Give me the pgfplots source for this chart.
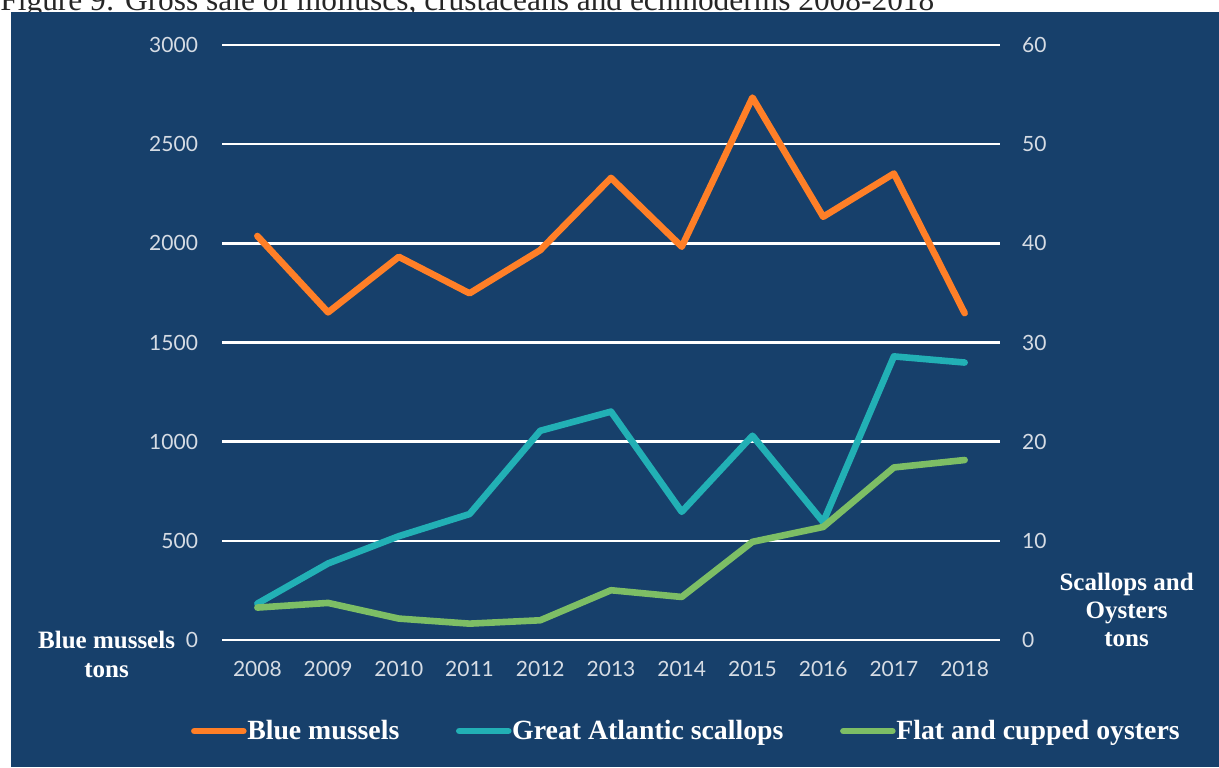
\documentclass[border=0pt]{standalone}
\usepackage{fontspec}
\setmainfont{Liberation Serif}
\newfontfamily\ticksfont{Lato}
\usepackage{pgfplots}
\pgfplotsset{compat=1.18}
\definecolor{bg}{HTML}{17406B}
\definecolor{cOrange}{HTML}{FF7F27}
\definecolor{cTeal}{HTML}{22B0B5}
\definecolor{cGreen}{HTML}{7DBE65}
\definecolor{tickc}{HTML}{D6DCE4}
\pgfplotstableread{
x mussels scallops oysters
0 2037 3.67 3.27
1 1652 7.72 3.74
2 1932 10.47 2.16
3 1748 12.7 1.65
4 1966 21.1 1.99
5 2330 23.03 5.02
6 1983 12.93 4.34
7 2735 20.6 9.9
8 2134 11.9 11.4
9 2352 28.6 17.4
10 1648 27.98 18.15
}\datatable
\begin{document}
\begin{tikzpicture}
\useasboundingbox (0pt,0pt) rectangle (609.5pt,383.5pt);
\node[anchor=base west, inner sep=0pt, font=\fontsize{15.7}{17}\selectfont, text=black!85] at (0pt,378.2pt) {Figure 9: Gross sale of molluscs, crustaceans and echinoderms 2008-2018};
\fill[bg] (5.5pt,0pt) rectangle (609.5pt,377.5pt);
\pgfplotsset{
  commonax/.style={
    at={(111pt,63.5pt)}, anchor=south west, scale only axis,
    width=389pt, height=297.5pt,
    xmin=-0.5, xmax=10.5,
    axis line style={draw=none}, major tick length=0pt,
    ticklabel style={font=\ticksfont\fontsize{10.5}{12}\selectfont, text=tickc},
    /pgf/number format/assume math mode=true,
    /pgf/number format/1000 sep={},
    clip=false,
  },
  pline/.style={line width=3.3pt, line join=round, line cap=round},
}
\begin{axis}[commonax,
  ymin=0, ymax=3000,
  xtick={0,1,2,3,4,5,6,7,8,9,10},
  xticklabels={2008,2009,2010,2011,2012,2013,2014,2015,2016,2017,2018},
  ytick={0,500,1000,1500,2000,2500,3000},
  ymajorgrids, grid style={white, line width=1.3pt},
  xticklabel style={yshift=-7pt},
  yticklabel style={xshift=-8.5pt},
  legend columns=3,
  legend style={at={(0.596,-0.153)}, anchor=center, draw=none, fill=none,
    text=white, font=\bfseries\fontsize{13.9}{16}\selectfont,
    /tikz/every even column/.append style={column sep=28pt},
    nodes={inner sep=0.3pt}},
  legend image code/.code={\draw[#1, line width=3.3pt, line cap=round] (0pt,0pt) -- (24.5pt,0pt);},
]
\addplot[pline, cOrange] table[x=x, y=mussels] {\datatable};
\addlegendentry{Blue mussels}
\addlegendimage{pline, cTeal}
\addlegendentry{Great Atlantic scallops}
\addlegendimage{pline, cGreen}
\addlegendentry{Flat and cupped oysters}
\end{axis}
\begin{axis}[commonax,
  ymin=0, ymax=60,
  axis y line*=right, axis x line=none,
  ytick={0,10,20,30,40,50,60},
  yticklabel style={xshift=7.5pt},
]
\addplot[pline, cTeal] table[x=x, y=scallops] {\datatable};
\addplot[pline, cGreen] table[x=x, y=oysters] {\datatable};
\end{axis}
\begin{scope}[every node/.style={text=white, font=\bfseries\fontsize{12.5}{14}\selectfont, inner sep=0pt, anchor=base}]
\node at (53.3pt,59.5pt) {Blue mussels};
\node at (53.3pt,45pt) {tons};
\node at (563.3pt,88.5pt) {Scallops and};
\node at (563.3pt,74.5pt) {Oysters};
\node at (563.3pt,60.5pt) {tons};
\end{scope}
\end{tikzpicture}
\end{document}
